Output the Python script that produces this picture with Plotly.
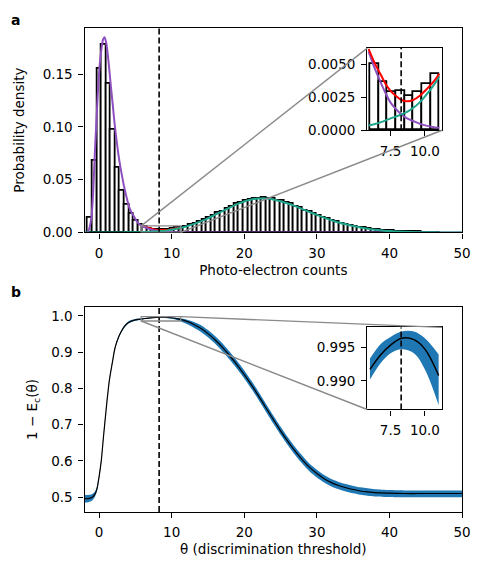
import numpy as np
import plotly.graph_objects as go

# ---- panel a: histogram of photo-electron counts ----
bin_lo = -1.53
bin_w = 0.63
hist_density = [0.014, 0.068, 0.155, 0.178, 0.141, 0.097, 0.061, 0.040, 0.026, 0.018,
                0.011, 0.0075, 0.0050, 0.0037, 0.0029, 0.0030, 0.0026, 0.0029, 0.0035, 0.0043,
                0.0049, 0.0056, 0.0073, 0.0083, 0.0104, 0.0118, 0.0141, 0.0158, 0.0185, 0.0201,
                0.0228, 0.0243, 0.0269, 0.0280, 0.0301, 0.0306, 0.0320, 0.0318, 0.0326, 0.0315,
                0.0316, 0.0302, 0.0297, 0.0280, 0.0268, 0.0247, 0.0230, 0.0210, 0.0195, 0.0174,
                0.0160, 0.0141, 0.0128, 0.0111, 0.0101, 0.0086, 0.0077, 0.0064, 0.0056, 0.0048,
                0.0042, 0.0033, 0.0029, 0.0022, 0.0019, 0.0014, 0.0012, 0.0009, 0.0008, 0.0005,
                0.0004, 0.0003, 0.0003, 0.0002, 0.0001, 0.0001, 0.0001]

# fitted components
x_purple = [-2, -1.6, -1.3, -1.04, -0.8, -0.59, -0.35, -0.14, 0.1, 0.31, 0.55, 0.76, 1.0, 1.22,
            1.44, 1.66, 1.9, 2.11, 2.45, 2.79, 3.12, 3.46, 3.8, 4.14, 4.48, 4.81, 5.3, 5.9,
            6.35, 6.8, 7.15, 7.5, 7.9, 8.3, 8.7, 9.15, 9.6, 10.1, 10.55, 11.05, 12, 14, 17,
            20, 30, 40, 50]
y_purple = [0.0, 0.0, 0.005, 0.015, 0.040, 0.074, 0.108, 0.136, 0.160, 0.173, 0.183, 0.185,
            0.179, 0.167, 0.152, 0.136, 0.120, 0.105, 0.085, 0.068, 0.055, 0.043, 0.033,
            0.024, 0.019, 0.015, 0.0095, 0.0060, 0.0047, 0.0036, 0.0028, 0.0021, 0.0016,
            0.0012, 0.0009, 0.0007, 0.0005, 0.00035, 0.00025, 0.00018, 0.0001, 0.00003,
            0.0, 0.0, 0.0, 0.0, 0.0]

x_teal = [-2, 2, 4, 5.3, 5.9, 6.35, 6.8, 7.15, 7.5, 7.9, 8.3, 8.7, 9.15, 9.6, 10.1, 10.55,
          11.05, 12, 13, 14, 15, 16, 17, 18, 19, 20, 21, 22, 23, 24, 25, 26, 27, 28, 29,
          30, 31, 32, 33, 34, 35, 36, 37, 38, 39, 40, 42, 44, 46, 48, 50]
y_teal = [0.0, 0.00003, 0.0001, 0.00024, 0.00036, 0.00048, 0.00062, 0.00075, 0.0009, 0.00105,
          0.0012, 0.0014, 0.0017, 0.0021, 0.0027, 0.0033, 0.0041, 0.0057, 0.0079, 0.0105,
          0.0134, 0.0168, 0.0202, 0.0236, 0.0268, 0.0294, 0.0312, 0.0321, 0.0321, 0.0313,
          0.0296, 0.0274, 0.0249, 0.0221, 0.0193, 0.0166, 0.0140, 0.0116, 0.0095, 0.0077,
          0.0061, 0.0047, 0.0035, 0.0026, 0.0019, 0.0013, 0.0006, 0.0003, 0.0001, 0.00004,
          0.00001]

x_red = [5.9, 6.35, 6.8, 7.15, 7.5, 7.9, 8.3, 8.7, 9.15, 9.6, 10.1, 10.55, 11.05]
y_red = [0.0062, 0.0051, 0.0042, 0.0035, 0.0030, 0.0026, 0.0023, 0.0022, 0.0023, 0.0026,
         0.0031, 0.0036, 0.0043]

# ---- panel b: 1 - Ec(theta) with uncertainty band ----
theta = [-2, -1.5, -1.0, -0.6, -0.3, 0.0, 0.3, 0.6, 1.0, 1.4, 1.8, 2.2, 2.6, 3.0, 3.5, 4.0,
         4.5, 5.0, 5.5, 6.0, 6.8, 7.5, 8.3, 9.2, 10.0, 11.0, 12, 13, 14, 15, 16, 17, 18, 19,
         20, 21, 22, 23, 24, 25, 26, 27, 28, 29, 30, 31, 32, 33, 34, 35, 36, 37, 38, 40, 42,
         44, 46, 48, 50]
one_minus_ec = [0.496, 0.496, 0.499, 0.507, 0.522, 0.556, 0.600, 0.665, 0.747, 0.820, 0.868,
                0.912, 0.937, 0.955, 0.971, 0.981, 0.986, 0.989, 0.9905, 0.9917, 0.9939,
                0.9953, 0.9963, 0.9961, 0.9947, 0.9908, 0.9855, 0.977, 0.9655, 0.951, 0.9335,
                0.913, 0.890, 0.865, 0.838, 0.809, 0.778, 0.746, 0.714, 0.683, 0.654, 0.627,
                0.603, 0.582, 0.565, 0.551, 0.540, 0.532, 0.526, 0.521, 0.517, 0.5145, 0.5125,
                0.511, 0.510, 0.510, 0.510, 0.510, 0.510]
band_lo = [0.485, 0.486, 0.490, 0.500, 0.516, 0.551, 0.596, 0.661, 0.744, 0.817, 0.865, 0.909,
           0.934, 0.952, 0.968, 0.978, 0.983, 0.9865, 0.988, 0.9902, 0.9927, 0.9941, 0.9947,
           0.9941, 0.9917, 0.9864, 0.978, 0.968, 0.956, 0.941, 0.923, 0.902, 0.879, 0.854,
           0.827, 0.798, 0.767, 0.735, 0.703, 0.672, 0.643, 0.616, 0.592, 0.571, 0.5545,
           0.5405, 0.5295, 0.5215, 0.5155, 0.5105, 0.5065, 0.504, 0.502, 0.5005, 0.4995,
           0.4995, 0.4995, 0.4995, 0.4995]
band_hi = [0.506, 0.506, 0.508, 0.514, 0.528, 0.561, 0.604, 0.669, 0.750, 0.823, 0.871, 0.915,
           0.940, 0.958, 0.974, 0.984, 0.989, 0.9915, 0.9925, 0.9933, 0.9955, 0.9965, 0.9973,
           0.9973, 0.9963, 0.9939, 0.990, 0.984, 0.975, 0.961, 0.944, 0.924, 0.901, 0.876,
           0.849, 0.820, 0.789, 0.757, 0.725, 0.694, 0.665, 0.638, 0.614, 0.592, 0.5755,
           0.561, 0.550, 0.542, 0.536, 0.531, 0.527, 0.5245, 0.522, 0.5195, 0.5185, 0.5185,
           0.5185, 0.5185, 0.5185]

threshold = 8.27
zoom_x = [5.8, 11.25]
zoom_ya = [0.0, 0.00625]
zoom_yb = [0.98577, 0.99792]

W, H = 485, 561
FONT = "DejaVu Sans"
FS = 13.5
PURPLE = "#8e4fbf"
TEAL = "#1fa68c"
BLUE = "#1f77b4"
GREY = "#8a8a8a"

# subplot placement (paper coords)
dom_x_main = [78 / W, 462.7 / W]
dom_x_ins = [366 / W, 442.3 / W]
dom_y_a = [1 - 227.7 / H, 1 - 20 / H]
dom_y_ains = [1 - 124 / H, 1 - 40.7 / H]
dom_y_b = [1 - 511.3 / H, 1 - 303.3 / H]
dom_y_bins = [1 - 407.3 / H, 1 - 324 / H]
range_x_main = [-2, 50]
range_y_a = [0, 0.194]
range_y_b = [0.459, 1.0245]

centers = bin_lo + bin_w * (np.arange(len(hist_density)) + 0.5)
hist = np.array(hist_density)
in_zoom = (centers > 6.0) & (centers < 11.1)


def part(xs, ys, lo=5.9, hi=11.05):
    xs = np.array(xs, dtype=float)
    ys = np.array(ys, dtype=float)
    m = (xs >= lo - 1e-9) & (xs <= hi + 1e-9)
    return xs[m], ys[m]


fig = go.Figure()

# panel a main
fig.add_trace(go.Bar(x=centers, y=hist, width=bin_w, marker=dict(color="white", line=dict(color="black", width=1.8)),
                     xaxis="x", yaxis="y"))
fig.add_trace(go.Scatter(x=x_red, y=y_red, mode="lines", line=dict(color="red", width=2), xaxis="x", yaxis="y"))
fig.add_trace(go.Scatter(x=x_purple, y=y_purple, mode="lines", line=dict(color=PURPLE, width=2, shape="spline", smoothing=0.6),
                         xaxis="x", yaxis="y"))
fig.add_trace(go.Scatter(x=x_teal, y=y_teal, mode="lines", line=dict(color=TEAL, width=2, shape="spline", smoothing=0.6),
                         xaxis="x", yaxis="y"))

# panel a inset
fig.add_trace(go.Bar(x=centers[in_zoom], y=hist[in_zoom], width=bin_w,
                     marker=dict(color="white", line=dict(color="black", width=1.8)), xaxis="x2", yaxis="y2"))
px_, py_ = part(x_purple, y_purple)
fig.add_trace(go.Scatter(x=px_, y=py_, mode="lines", line=dict(color=PURPLE, width=2, shape="spline"), xaxis="x2", yaxis="y2"))
tx_, ty_ = part(x_teal, y_teal)
fig.add_trace(go.Scatter(x=tx_, y=ty_, mode="lines", line=dict(color=TEAL, width=2, shape="spline"), xaxis="x2", yaxis="y2"))
fig.add_trace(go.Scatter(x=x_red, y=y_red, mode="lines", line=dict(color="red", width=2, shape="spline"), xaxis="x2", yaxis="y2"))

# panel b main
fig.add_trace(go.Scatter(x=theta, y=band_lo, mode="lines", line=dict(width=0, shape="spline", smoothing=0.7),
                         xaxis="x3", yaxis="y3"))
fig.add_trace(go.Scatter(x=theta, y=band_hi, mode="lines", line=dict(width=0, shape="spline", smoothing=0.7),
                         fill="tonexty", fillcolor=BLUE, xaxis="x3", yaxis="y3"))
fig.add_trace(go.Scatter(x=theta, y=one_minus_ec, mode="lines",
                         line=dict(color="black", width=1.2, shape="spline", smoothing=0.7), xaxis="x3", yaxis="y3"))

# panel b inset
bx, blo = part(theta, band_lo, 6.0, 11.0)
_, bhi = part(theta, band_hi, 6.0, 11.0)
_, bmid = part(theta, one_minus_ec, 6.0, 11.0)
fig.add_trace(go.Scatter(x=bx, y=blo, mode="lines", line=dict(width=0, shape="spline"), xaxis="x4", yaxis="y4"))
fig.add_trace(go.Scatter(x=bx, y=bhi, mode="lines", line=dict(width=0, shape="spline"), fill="tonexty",
                         fillcolor=BLUE, xaxis="x4", yaxis="y4"))
fig.add_trace(go.Scatter(x=bx, y=bmid, mode="lines", line=dict(color="black", width=1.5, shape="spline"),
                         xaxis="x4", yaxis="y4"))

ax_style = dict(showline=True, linecolor="black", linewidth=1.3, mirror=True, ticks="outside",
                ticklen=5, tickwidth=1.3, tickcolor="black", showgrid=False, zeroline=False,
                tickfont=dict(size=FS, color="black"), ticklabelstandoff=3)


def axis(**kw):
    d = dict(ax_style)
    d.update(kw)
    return d


shapes = []
# threshold lines
for xr, yr in [("x", "y domain"), ("x2", "y2 domain"), ("x3", "y3 domain"), ("x4", "y4 domain")]:
    shapes.append(dict(type="line", xref=xr, yref=yr, x0=threshold, x1=threshold, y0=0, y1=1,
                       line=dict(color="black", width=1.6, dash="6px,3px")))
# zoom rectangles
shapes.append(dict(type="rect", xref="x", yref="y", x0=zoom_x[0], x1=zoom_x[1], y0=zoom_ya[0], y1=zoom_ya[1],
                   line=dict(color=GREY, width=1.3)))
shapes.append(dict(type="rect", xref="x3", yref="y3", x0=zoom_x[0], x1=zoom_x[1], y0=zoom_yb[0], y1=zoom_yb[1],
                   line=dict(color=GREY, width=1.3)))


def to_paper(xv, yv, xdom, ydom, xr, yr):
    fx = (xv - xr[0]) / (xr[1] - xr[0])
    fy = (yv - yr[0]) / (yr[1] - yr[0])
    return xdom[0] + fx * (xdom[1] - xdom[0]), ydom[0] + fy * (ydom[1] - ydom[0])


def connector(xv, yv, xdom, ydom, xr, yr, corner_x, corner_y):
    x0, y0 = to_paper(xv, yv, xdom, ydom, xr, yr)
    return dict(type="line", xref="paper", yref="paper", x0=x0, y0=y0, x1=corner_x, y1=corner_y,
                line=dict(color=GREY, width=1.4))


shapes.append(connector(zoom_x[0], zoom_ya[1], dom_x_main, dom_y_a, range_x_main, range_y_a,
                        dom_x_ins[0], dom_y_ains[1]))
shapes.append(connector(zoom_x[1], zoom_ya[0], dom_x_main, dom_y_a, range_x_main, range_y_a,
                        dom_x_ins[1], dom_y_ains[0]))
shapes.append(connector(zoom_x[1], zoom_yb[1], dom_x_main, dom_y_b, range_x_main, range_y_b,
                        dom_x_ins[1], dom_y_bins[1]))
shapes.append(connector(zoom_x[0], zoom_yb[0], dom_x_main, dom_y_b, range_x_main, range_y_b,
                        dom_x_ins[0], dom_y_bins[0]))

fig.update_layout(
    width=W, height=H, autosize=False,
    margin=dict(l=0, r=0, t=0, b=0),
    paper_bgcolor="white", plot_bgcolor="white",
    showlegend=False, bargap=0,
    font=dict(family=FONT, size=FS, color="black"),
    xaxis=axis(domain=dom_x_main, anchor="y", range=range_x_main, tickvals=[0, 10, 20, 30, 40, 50],
               title=dict(text="Photo-electron counts", font=dict(size=FS), standoff=5)),
    yaxis=axis(domain=dom_y_a, anchor="x", range=range_y_a, tickvals=[0, 0.05, 0.10, 0.15], tickformat=".2f",
               title=dict(text="Probability density", font=dict(size=FS), standoff=14)),
    xaxis2=axis(domain=dom_x_ins, anchor="y2", range=zoom_x, tickvals=[7.5, 10.0], tickformat=".1f"),
    yaxis2=axis(domain=dom_y_ains, anchor="x2", range=zoom_ya, tickvals=[0, 0.0025, 0.005], tickformat=".4f"),
    xaxis3=axis(domain=dom_x_main, anchor="y3", range=range_x_main, tickvals=[0, 10, 20, 30, 40, 50],
                title=dict(text="θ (discrimination threshold)", font=dict(size=FS), standoff=5)),
    yaxis3=axis(domain=dom_y_b, anchor="x3", range=range_y_b, tickvals=[0.5, 0.6, 0.7, 0.8, 0.9, 1.0],
                tickformat=".1f", title=dict(text="1 − E<sub>c</sub>(θ)", font=dict(size=FS), standoff=10)),
    xaxis4=axis(domain=dom_x_ins, anchor="y4", range=zoom_x, tickvals=[7.5, 10.0], tickformat=".1f"),
    yaxis4=axis(domain=dom_y_bins, anchor="x4", range=zoom_yb, tickvals=[0.990, 0.995], tickformat=".3f"),
    shapes=shapes,
    annotations=[
        dict(text="<b>a</b>", x=0.002, y=1 - 2 / H, xref="paper", yref="paper", xanchor="left", yanchor="top",
             showarrow=False, font=dict(size=14)),
        dict(text="<b>b</b>", x=0.002, y=1 - 278 / H, xref="paper", yref="paper", xanchor="left", yanchor="top",
             showarrow=False, font=dict(size=14)),
    ],
)

fig.write_html("out.html")
